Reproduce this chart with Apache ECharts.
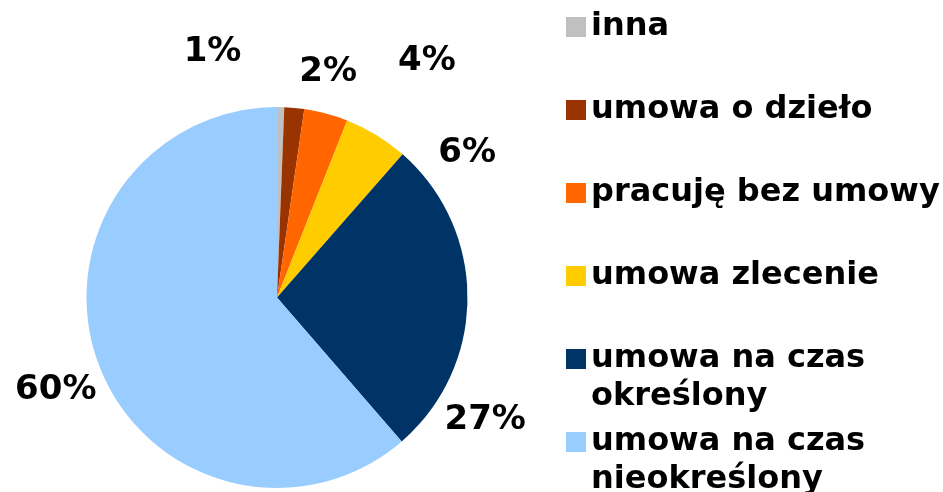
<!DOCTYPE html>
<html>
<head>
<meta charset="utf-8">
<script src="https://cdn.jsdelivr.net/npm/echarts@6/dist/echarts.min.js"></script>
<style>
  html, body { margin: 0; padding: 0; background: #fff; }
  #chart { width: 943px; height: 492px; }
</style>
</head>
<body>
<div id="chart"></div>
<script>
// forms of employment (share of respondents)
const categories = ['inna', 'umowa o dzieło', 'pracuję bez umowy', 'umowa zlecenie',
  'umowa na czas określony', 'umowa na czas nieokreślony']
// slice sizes
const shares = [0.61, 1.68, 3.71, 5.46, 27.18, 61.36]
// percentages as printed on the chart
const printedLabels = ['1%', '2%', '4%', '6%', '27%', '60%']

const colors = ['#C0C0C0', '#993300', '#FF6600', '#FFCC00', '#003366', '#99CCFF']
// label nudges away from the slice edge (dx, dy)
const labelNudge = [[-97, -55], [5, -36], [72, -52], [62, 18], [-23, 122], [-2, 26]]

const chartObj = echarts.init(document.getElementById('chart'))
const font = 'DejaVu Sans'

const option = {
  animation: false,
  legend: {
    orient: 'vertical',
    left: 566,
    top: -30,
    height: 700,
    padding: 0,
    itemGap: -31,
    itemWidth: 20,
    itemHeight: 20,
    icon: 'rect',
    selectedMode: false,
    data: categories.map(name => ({
      name: name,
      // wrapped names get an empty first line instead of padding
      textStyle: {
        padding: name.indexOf('czas') >= 0 ? 0 : [38, 0, 38, 0]
      }
    })),
    formatter: name => name.indexOf('czas ') >= 0 ? '\n' + name.replace('czas ', 'czas\n') : name,
    textStyle: {
      fontFamily: font,
      fontWeight: 'bold',
      fontSize: 32,
      lineHeight: 38,
      color: '#000'
    }
  },
  series: [
    {
      type: 'pie',
      center: [277, 297.5],
      radius: 190.5,
      startAngle: 90,
      clockwise: true,
      avoidLabelOverlap: false,
      color: colors,
      itemStyle: { borderWidth: 0 },
      emphasis: { disabled: true },
      label: {
        show: true,
        position: 'outside',
        distanceToLabelLine: 0,
        fontFamily: font,
        fontWeight: 'bold',
        fontSize: 34,
        color: '#000',
        formatter: p => printedLabels[p.dataIndex]
      },
      labelLine: { show: false, length: 0, length2: 0 },
      labelLayout: p => ({ dx: labelNudge[p.dataIndex][0], dy: labelNudge[p.dataIndex][1] }),
      data: categories.map((name, i) => ({ name: name, value: shares[i] }))
    }
  ]
}
chartObj.setOption(option)
</script>
</body>
</html>
